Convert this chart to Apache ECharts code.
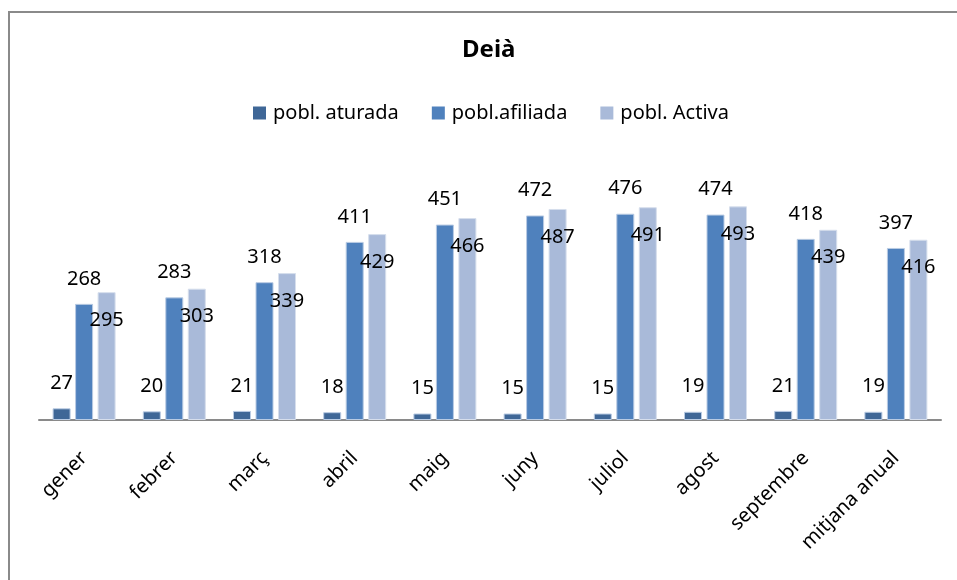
<!DOCTYPE html>
<html>
<head>
    <meta charset="utf-8">
    <title>Deià</title>
    <script src="https://cdn.jsdelivr.net/npm/echarts@6/dist/echarts.min.js"></script>
</head>
<body style="margin:0;">
<div id="main" style="width: 957px;height:580px;"></div>
<script type="text/javascript">
    // categories
    var mesos = ['gener', 'febrer', 'març', 'abril', 'maig', 'juny', 'juliol', 'agost', 'septembre', 'mitjana anual'];
    // series values
    var aturada = [27, 20, 21, 18, 15, 15, 15, 19, 21, 19];
    var afiliada = [268, 283, 318, 411, 451, 472, 476, 474, 418, 397];
    var activa = [295, 303, 339, 429, 466, 487, 491, 493, 439, 416];

    var font = 'Noto Sans';
    var myChart = echarts.init(document.getElementById('main'));

    var option = {
        animation: false,
        backgroundColor: '#fff',
        graphic: [{
            type: 'rect',
            shape: {x: 9, y: 12, width: 1200, height: 1000},
            style: {fill: 'none', stroke: '#8a8a8a', lineWidth: 2},
            silent: true
        }],
        title: {
            text: 'Deià',
            left: 462,
            top: 38,
            padding: 0,
            textStyle: {fontFamily: font, fontSize: 24, fontWeight: 'bold', color: '#000'}
        },
        legend: {
            data: ['pobl. aturada', 'pobl.afiliada', 'pobl. Activa'],
            left: 248,
            top: 98,
            icon: 'rect',
            itemWidth: 13,
            itemHeight: 13,
            itemGap: 33,
            itemStyle: {borderWidth: 0},
            textStyle: {fontFamily: font, fontSize: 20, color: '#000', padding: [0, 0, 0, 2]}
        },
        grid: {left: 39, right: 16, top: 160, bottom: 160},
        xAxis: {
            type: 'category',
            data: mesos,
            axisLine: {lineStyle: {color: '#8a8a8a', width: 2}},
            axisTick: {show: false},
            axisLabel: {
                rotate: 45,
                interval: 0,
                margin: 35,
                fontFamily: font,
                fontSize: 20,
                color: '#000'
            }
        },
        yAxis: {
            type: 'value',
            min: 0,
            max: 600,
            show: false,
            splitLine: {show: false}
        },
        series: [{
            name: 'pobl. aturada',
            type: 'bar',
            data: aturada,
            barWidth: 18,
            barGap: '25%',
            itemStyle: {color: '#3f6797', borderColor: '#b9cbe3', borderWidth: 1},
            label: {show: true, position: 'top', offset: [0, -10], fontFamily: font, fontSize: 20, color: '#000'}
        }, {
            name: 'pobl.afiliada',
            type: 'bar',
            data: afiliada,
            barWidth: 18,
            barGap: '25%',
            itemStyle: {color: '#4f81bd', borderColor: '#b9cbe3', borderWidth: 1},
            label: {show: true, position: 'top', offset: [0, -10], fontFamily: font, fontSize: 20, color: '#000'}
        }, {
            name: 'pobl. Activa',
            type: 'bar',
            data: activa,
            barWidth: 18,
            barGap: '25%',
            itemStyle: {color: '#a9bad9', borderColor: '#d6deec', borderWidth: 1},
            label: {show: true, position: 'insideTop', offset: [0, 13], fontFamily: font, fontSize: 20, color: '#000'}
        }]
    };

    myChart.setOption(option);
</script>
</body>
</html>
